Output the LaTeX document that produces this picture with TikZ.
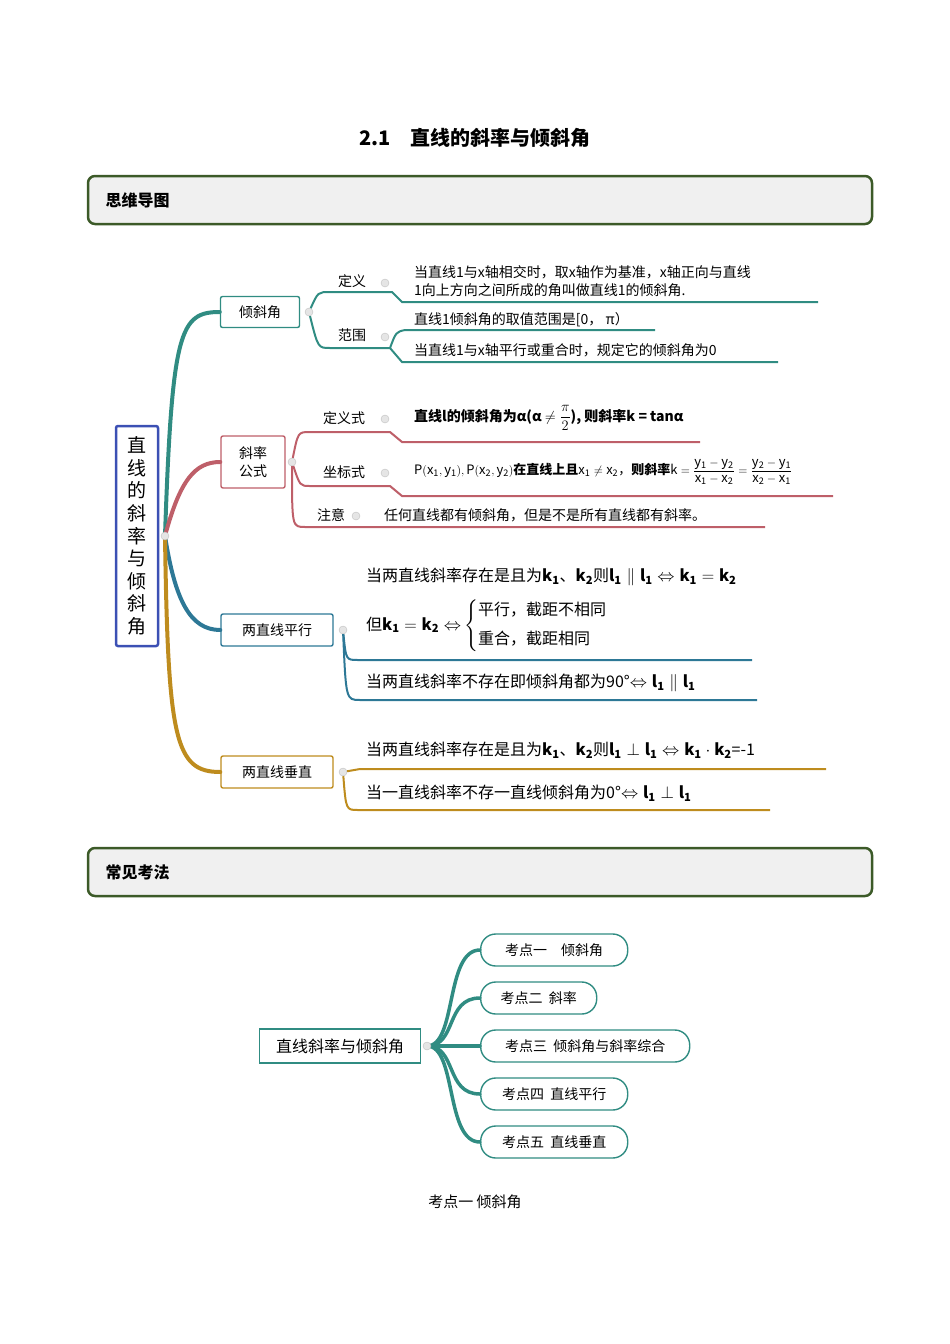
\documentclass[tikz,border=0pt]{standalone}
\usepackage{amsmath}
\usepackage{fontspec}
\setmainfont{Noto Sans CJK SC}
\usetikzlibrary{positioning,calc}
\definecolor{tealb}{RGB}{48,140,130}
\definecolor{redb}{RGB}{190,95,105}
\definecolor{blueb}{RGB}{45,120,150}
\definecolor{goldb}{RGB}{190,140,30}
\definecolor{headg}{RGB}{60,90,40}
\definecolor{rootb}{RGB}{60,80,180}
\newcommand{\fs}[1]{\fontsize{#1}{1.3\dimexpr#1pt\relax}\selectfont}

\begin{document}
\begin{tikzpicture}[x=1pt,y=-1pt,
  header/.style={draw=headg, line width=2.5pt, fill=gray!12, rounded corners=7pt},
  topic/.style={draw=#1, line width=1.4pt, fill=white, rounded corners=2pt, inner sep=4pt, font=\fs{14}},
  knob/.style={circle, fill=gray!20, draw=gray!50, inner sep=0pt, minimum size=8pt},
  branch/.style={draw=#1, line width=4pt, line cap=round},
  twig/.style={draw=#1, line width=2pt},
  leaf/.style={anchor=west, inner sep=0pt, font=\fs{14}},
  pill/.style={draw=tealb, line width=1.4pt, fill=white, rounded corners=15pt, minimum height=32pt, anchor=west, inner xsep=14pt, font=\fs{14}}]
  \useasboundingbox (0,0) rectangle (950,1344);

  % title
  \node[font=\bfseries\fs{20}] (title) at (475,138) {\textrm{2.1}\quad 直线的斜率与倾斜角};

  % header 1
  \draw[header] (88,176) rectangle (872,224);
  \node[anchor=west, font=\bfseries\fs{16}] (h1) at (102,200) {思维导图};

  % root
  \node[draw=rootb, line width=2.5pt, rounded corners=2pt, minimum width=42pt, minimum height=220pt, align=center, font=\fontsize{19}{22.6}\selectfont, inner sep=0pt] (root) at (137,536)
    {直\\线\\的\\斜\\率\\与\\倾\\斜\\角};
  \coordinate (rootr) at (165,536);

  % topics
  \node[topic=tealb, minimum width=79pt, minimum height=31pt] (qxj) at (260,312) {倾斜角};
  \node[topic=redb, minimum width=64pt, minimum height=52pt, align=center] (xlgs) at (253,462) {斜率\\公式};
  \node[topic=blueb, minimum width=112pt, minimum height=32pt] (px) at (277,630) {两直线平行};
  \node[topic=goldb, minimum width=112pt, minimum height=32pt] (cz) at (277,772) {两直线垂直};

  \draw[branch=tealb] (rootr) .. controls (172,330) and (180,312) .. (qxj.west);
  \draw[branch=redb] (rootr) .. controls (180,480) and (195,462) .. (xlgs.west);
  \draw[branch=blueb] (rootr) .. controls (175,600) and (190,630) .. (px.west);
  \draw[branch=goldb] (rootr) .. controls (168,740) and (175,772) .. (cz.west);
  \node[knob] (rootk) at (rootr) {};

  % 倾斜角
  \node[knob] (qxjk) at (309,312) {};
  \node[font=\fs{14}] (dy) at (352,281) {定义};
  \node[knob] (dyk) at (385,283) {};
  \node[font=\fs{14}] (fw) at (352,335) {范围};
  \node[knob] (fwk) at (385,337) {};
  \draw[twig=tealb] (qxjk) .. controls (318,292) .. (330,292) -- (392,292) -- (402,302) -- (818,302);
  \draw[twig=tealb] (qxjk) .. controls (318,348) .. (330,348) -- (390,348) .. controls (396,332) .. (405,330) -- (655,330);
  \draw[twig=tealb] (390,348) -- (402,362) -- (778,362);
  \node[leaf, align=left] (dyt) at (414,281) {当直线1与x轴相交时，取x轴作为基准，x轴正向与直线\\1向上方向之间所成的角叫做直线1的倾斜角.};
  \node[leaf] (fwt1) at (414,320) {直线1倾斜角的取值范围是[0，\ π）};
  \node[leaf] (fwt2) at (414,350) {当直线1与x轴平行或重合时，规定它的倾斜角为0};

  % 斜率公式
  \node[knob] (xlk) at (292,462) {};
  \node[font=\fs{14}] (dys) at (344,418) {定义式};
  \node[knob] (dysk) at (385,419) {};
  \node[font=\fs{14}] (zbs) at (344,472) {坐标式};
  \node[knob] (zbsk) at (385,473) {};
  \node[font=\fs{14}] (zy) at (331,515) {注意};
  \node[knob] (zyk) at (356,516) {};
  \draw[twig=redb] (xlk) .. controls (298,432) .. (310,432) -- (390,432) -- (402,442) -- (700,442);
  \draw[twig=redb] (xlk) .. controls (300,486) .. (310,486) -- (390,486) -- (402,496) -- (833,496);
  \draw[twig=redb] (xlk) .. controls (292,527) .. (305,527) -- (765,527);
  \node[leaf, font=\bfseries\fs{14}] (dyst) at (414,418) {直线l的倾斜角为α(α $\neq\dfrac{\pi}{2}$), 则斜率k = tanα};
  \node[leaf, font=\fs{13}] (zbst) at (414,472) {$\mathrm{P(x_1,y_1),P(x_2,y_2)}$\textbf{在直线上且}$\mathrm{x_1\neq x_2}$，\textbf{则斜率}$\mathrm{k=\dfrac{y_1-y_2}{x_1-x_2}=\dfrac{y_2-y_1}{x_2-x_1}}$};
  \node[leaf] (zyt) at (384,515) {任何直线都有倾斜角，但是不是所有直线都有斜率。};

  % 两直线平行
  \node[knob] (pxk) at (343,630) {};
  \draw[twig=blueb] (pxk) .. controls (346,660) .. (358,660) -- (752,660);
  \draw[twig=blueb] (pxk) .. controls (346,700) .. (360,700) -- (757,700);
  \node[leaf, font=\fs{16}] (pxt1) at (366,577) {当两直线斜率存在是且为$\mathbf{k_1}$、$\mathbf{k_2}$则$\mathbf{l_1\parallel l_1\Leftrightarrow k_1=k_2}$};
  \node[leaf, font=\fs{16}] (pxt2) at (366,626) {但$\mathbf{k_1=k_2\Leftrightarrow}\left\{\begin{array}{@{}l}\text{平行，截距不相同}\\[8pt]\text{重合，截距相同}\end{array}\right.$};
  \node[leaf, font=\fs{16}] (pxt3) at (366,683) {当两直线斜率不存在即倾斜角都为90°$\mathbf{\Leftrightarrow l_1\parallel l_1}$};

  % 两直线垂直
  \node[knob] (czk) at (343,772) {};
  \draw[twig=goldb] (czk) -- (360,769) -- (826,769);
  \draw[twig=goldb] (czk) .. controls (346,810) .. (358,810) -- (770,810);
  \node[leaf, font=\fs{16}] (czt1) at (366,750) {当两直线斜率存在是且为$\mathbf{k_1}$、$\mathbf{k_2}$则$\mathbf{l_1\perp l_1\Leftrightarrow k_1\cdot k_2}$=-1};
  \node[leaf, font=\fs{16}] (czt2) at (366,793) {当一直线斜率不存一直线倾斜角为0°$\mathbf{\Leftrightarrow l_1\perp l_1}$};

  % header 2
  \draw[header] (88,848) rectangle (872,896);
  \node[anchor=west, font=\bfseries\fs{16}] (h2) at (102,872) {常见考法};

  % exam points
  \node[draw=tealb, line width=1.6pt, fill=white, minimum width=161pt, minimum height=34pt, font=\fs{16}] (kf) at (340,1046) {直线斜率与倾斜角};
  \node[pill, minimum width=147pt] (k1) at (480,950) {考点一\quad 倾斜角};
  \node[pill, minimum width=116pt] (k2) at (480,998) {考点二\ \ 斜率};
  \node[pill, minimum width=209pt] (k3) at (480,1046) {考点三\ \ 倾斜角与斜率综合};
  \node[pill, minimum width=147pt] (k4) at (480,1094) {考点四\ \ 直线平行};
  \node[pill, minimum width=147pt] (k5) at (480,1142) {考点五\ \ 直线垂直};
  \coordinate (kfr) at (427,1046);
  \foreach \k in {k1,k2,k3,k4,k5}
    \draw[branch=tealb, line width=3.5pt] (kfr) .. controls +(30,0) and +(-35,0) .. (\k.west);
  \node[knob] (kfk) at (kfr) {};

  \node[font=\fs{15}] (cap) at (475,1202) {考点一\ 倾斜角};
\end{tikzpicture}
\end{document}
